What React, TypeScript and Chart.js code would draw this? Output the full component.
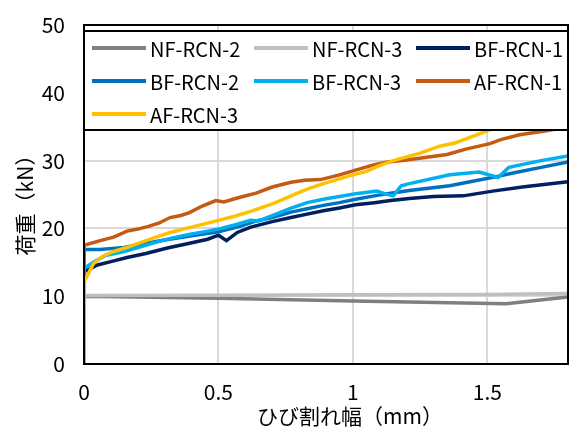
import React, { useEffect, useRef } from "react";
import { Chart, registerables } from "chart.js";

Chart.register(...registerables);

const FONT = "'Noto Sans CJK JP', 'Noto Sans', sans-serif";

const xTitle = "ひび割れ幅（mm）";
const yTitle = "荷重（kN）";
const xTickValues = [0, 0.5, 1, 1.5];
const yTickValues = [0, 10, 20, 30, 40, 50];

const seriesNames = ["NF-RCN-2", "NF-RCN-3", "BF-RCN-1", "BF-RCN-2", "BF-RCN-3", "AF-RCN-1", "AF-RCN-3"];
const seriesColors = ["#7f7f7f", "#bfbfbf", "#002060", "#0070c0", "#00b0f0", "#c55a11", "#ffc000"];

const nf2X = [0, 0, 0.5, 1.0, 1.57, 1.8];
const nf2Y = [0, 10.0, 9.7, 9.3, 8.9, 9.9];

const nf3X = [0, 0, 0.5, 1.0, 1.5, 1.8];
const nf3Y = [0, 10.1, 10.15, 10.2, 10.25, 10.4];

const bf1X = [0, 0, 0.05, 0.1, 0.16, 0.23, 0.31, 0.38, 0.46, 0.5, 0.53, 0.57, 0.62, 0.7, 0.77, 0.83, 0.89, 0.95, 1.01, 1.08, 1.14, 1.21, 1.3, 1.41, 1.52, 1.63, 1.8];
const bf1Y = [0, 13.6, 14.6, 15.1, 15.7, 16.3, 17.1, 17.7, 18.4, 19.0, 18.2, 19.4, 20.2, 21.0, 21.6, 22.1, 22.6, 23.0, 23.5, 23.8, 24.1, 24.4, 24.7, 24.8, 25.5, 26.1, 26.9];

const bf2X = [0, 0, 0.06, 0.15, 0.2, 0.3, 0.4, 0.5, 0.58, 0.64, 0.7, 0.77, 0.83, 0.89, 0.95, 1.01, 1.08, 1.14, 1.21, 1.36, 1.45, 1.53, 1.6, 1.7, 1.8];
const bf2Y = [0, 16.9, 16.9, 17.2, 17.6, 18.3, 18.9, 19.5, 20.3, 21.1, 21.6, 22.4, 22.9, 23.4, 23.8, 24.3, 24.8, 25.2, 25.6, 26.3, 27.0, 27.6, 28.2, 29.0, 29.8];

const bf3X = [0, 0, 0.035, 0.08, 0.15, 0.21, 0.27, 0.33, 0.39, 0.46, 0.51, 0.56, 0.62, 0.65, 0.7, 0.77, 0.83, 0.89, 0.95, 1.01, 1.09, 1.12, 1.15, 1.18, 1.21, 1.36, 1.47, 1.54, 1.58, 1.7, 1.8];
const bf3Y = [0, 14.1, 15.0, 16.0, 16.6, 17.3, 18.0, 18.6, 19.1, 19.6, 20.0, 20.5, 21.2, 21.1, 21.9, 23.0, 23.8, 24.3, 24.7, 25.1, 25.5, 25.1, 24.8, 26.3, 26.6, 27.9, 28.3, 27.5, 29.0, 30.0, 30.7];

const af1X = [0, 0, 0.06, 0.11, 0.16, 0.2, 0.24, 0.28, 0.32, 0.36, 0.39, 0.44, 0.49, 0.52, 0.58, 0.64, 0.7, 0.77, 0.82, 0.88, 0.95, 1.01, 1.08, 1.13, 1.2, 1.35, 1.42, 1.51, 1.55, 1.62, 1.72, 1.8];
const af1Y = [0, 17.5, 18.2, 18.7, 19.6, 19.9, 20.3, 20.8, 21.6, 21.9, 22.3, 23.3, 24.1, 23.9, 24.6, 25.2, 26.1, 26.8, 27.1, 27.2, 27.9, 28.6, 29.4, 29.8, 30.1, 30.9, 31.7, 32.5, 33.1, 33.8, 34.4, 35.0];

const af3X = [0, 0, 0.035, 0.07, 0.11, 0.16, 0.21, 0.26, 0.32, 0.38, 0.44, 0.51, 0.56, 0.62, 0.7, 0.77, 0.83, 0.89, 0.95, 1.01, 1.05, 1.1, 1.16, 1.25, 1.32, 1.38, 1.44, 1.48, 1.6, 1.8];
const af3Y = [0, 12.1, 14.8, 15.9, 16.6, 17.2, 17.9, 18.6, 19.4, 20.0, 20.6, 21.3, 21.8, 22.5, 23.6, 24.8, 25.8, 26.6, 27.3, 28.0, 28.4, 29.3, 30.1, 31.1, 32.1, 32.6, 33.5, 34.1, 36.0, 39.0];

const seriesX = [nf2X, nf3X, bf1X, bf2X, bf3X, af1X, af3X];
const seriesY = [nf2Y, nf3Y, bf1Y, bf2Y, bf3Y, af1Y, af3Y];

const frameAndLegend = {
  id: "frameAndLegend",
  afterDatasetsDraw(chart: any) {
    const { ctx, chartArea } = chart;
    const { left, right, top, bottom } = chartArea;
    ctx.save();
    // plot frame
    ctx.strokeStyle = "#000";
    ctx.lineWidth = 2;
    ctx.strokeRect(left, top, right - left, bottom - top);
    // legend box
    const boxTop = top + 6;
    const boxH = 99;
    ctx.fillStyle = "#fff";
    ctx.fillRect(left, boxTop, right - left, boxH);
    ctx.strokeRect(left, boxTop, right - left, boxH);
    const ds = chart.data.datasets;
    ctx.font = `20px ${FONT}`;
    ctx.textBaseline = "middle";
    ctx.textAlign = "left";
    for (let i = 0; i < ds.length; i++) {
      const col = i % 3;
      const row = Math.floor(i / 3);
      const x0 = left + 8 + col * 162;
      const cy = boxTop + 17 + row * 33;
      ctx.strokeStyle = ds[i].borderColor;
      ctx.lineWidth = 4;
      ctx.beginPath();
      ctx.moveTo(x0, cy);
      ctx.lineTo(x0 + 54, cy);
      ctx.stroke();
      ctx.fillStyle = "#000";
      ctx.fillText(ds[i].label, x0 + 58, cy + 1);
    }
    // axis titles
    ctx.font = `21px ${FONT}`;
    ctx.textAlign = "center";
    ctx.fillText(xTitle, 350, 416);
    ctx.translate(25, 200);
    ctx.rotate(-Math.PI / 2);
    ctx.fillText(yTitle, 0, 0);
    ctx.restore();
  },
};

export default function App() {
  const ref = useRef<HTMLCanvasElement | null>(null);
  useEffect(() => {
    document.body.style.margin = "0";
    if (!ref.current) return;
    const datasets = seriesNames.map((name, i) => ({
      label: name,
      data: seriesX[i].map((x, j) => ({ x, y: seriesY[i][j] })),
      borderColor: seriesColors[i],
      backgroundColor: seriesColors[i],
      borderWidth: 3.5,
      pointRadius: 0,
      tension: 0,
      fill: false,
      order: seriesNames.length - 1 - i,
    }));
    const chart = new Chart(ref.current, {
      type: "line",
      data: { datasets },
      options: {
        animation: false,
        responsive: false,
        layout: { padding: { left: 0, top: 25, right: 2, bottom: 0 } },
        plugins: { legend: { display: false }, tooltip: { enabled: false } },
        scales: {
          x: {
            type: "linear",
            min: 0,
            max: 1.8,
            afterBuildTicks: (s: any) => {
              s.ticks = xTickValues.map((v) => ({ value: v }));
            },
            afterFit: (s: any) => {
              s.height = 64;
              s.paddingTop = 0;
              s.paddingBottom = 0;
              s.paddingLeft = 0;
              s.paddingRight = 0;
            },
            grid: { color: "#d9d9d9", lineWidth: 2, drawTicks: false },
            border: { color: "#000", width: 2 },
            ticks: {
              padding: 15,
              maxRotation: 0,
              autoSkip: false,
              color: "#000",
              font: { family: FONT, size: 21 },
              callback: (v: any) => String(v),
            },
          },
          y: {
            type: "linear",
            min: 0,
            max: 50,
            afterBuildTicks: (s: any) => {
              s.ticks = yTickValues.map((v) => ({ value: v }));
            },
            afterFit: (s: any) => {
              s.width = 84;
              s.paddingTop = 0;
              s.paddingBottom = 0;
              s.paddingLeft = 0;
              s.paddingRight = 0;
            },
            grid: { color: "#d9d9d9", lineWidth: 2, drawTicks: false },
            border: { color: "#000", width: 2 },
            ticks: {
              padding: 19,
              color: "#000",
              font: { family: FONT, size: 21 },
            },
          },
        },
      },
      plugins: [frameAndLegend],
    });
    return () => chart.destroy();
  }, []);
  return (
    <div style={{ width: 570, height: 428 }}>
      <canvas ref={ref} width={570} height={428} />
    </div>
  );
}
